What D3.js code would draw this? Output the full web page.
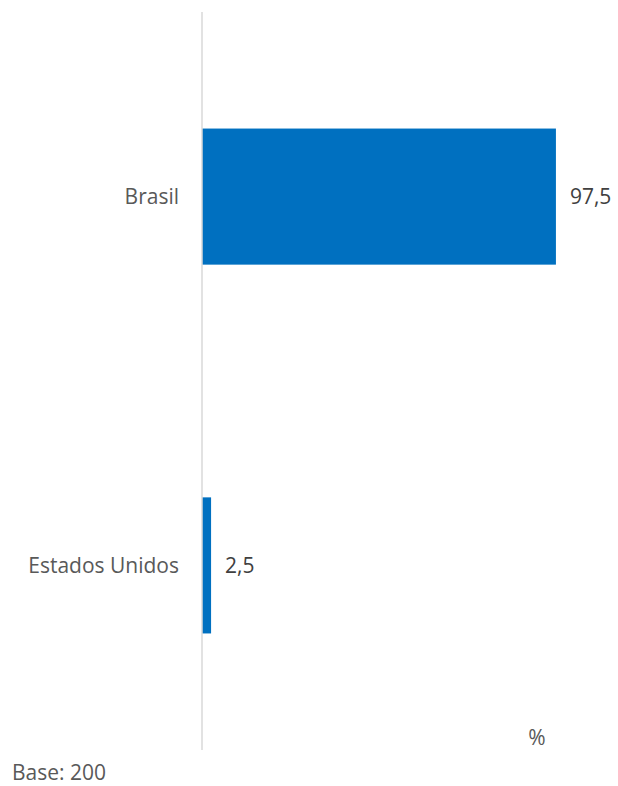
<!DOCTYPE html>
<html>
<head>
<meta charset="utf-8">
<script src="https://cdn.jsdelivr.net/npm/d3@7"></script>
<style>
  html, body { margin: 0; padding: 0; background: #fff; }
  svg { display: block; font-family: "Open Sans", "Noto Sans", sans-serif; }
</style>
</head>
<body>
<svg id="chart" width="618" height="786"></svg>
<script>
const categories = ["Brasil", "Estados Unidos"];
const values = [97.5, 2.5];
const valueLabels = ["97,5", "2,5"];
const unitLabel = "%";
const baseNote = "Base: 200";

const FS = 21;
const svg = d3.select("#chart");
const x = d3.scaleLinear().domain([0, 100]).range([202, 565]);
const y = d3.scaleBand().domain(categories).range([12, 750]).paddingInner(0.631).paddingOuter(0.316);

// bars
svg.selectAll("rect.bar").data(categories).enter().append("rect")
  .attr("class", "bar")
  .attr("x", x(0))
  .attr("y", d => y(d))
  .attr("width", (d, i) => x(values[i]) - x(0))
  .attr("height", y.bandwidth())
  .attr("fill", "#0070C0");

// axis line
svg.append("line")
  .attr("x1", x(0)).attr("x2", x(0))
  .attr("y1", 12).attr("y2", 750)
  .attr("stroke", "#d9d9d9").attr("stroke-width", 1.5);

// category labels
svg.selectAll("text.cat").data(categories).enter().append("text")
  .attr("class", "cat")
  .attr("x", 179)
  .attr("y", d => y(d) + y.bandwidth() / 2)
  .attr("dy", "0.35em")
  .attr("text-anchor", "end")
  .attr("font-size", FS)
  .attr("fill", "#595959")
  .text(d => d);

// value labels
svg.selectAll("text.val").data(categories).enter().append("text")
  .attr("class", "val")
  .attr("x", (d, i) => x(values[i]) + 14)
  .attr("y", d => y(d) + y.bandwidth() / 2)
  .attr("dy", "0.35em")
  .attr("font-size", FS)
  .attr("fill", "#404040")
  .text((d, i) => valueLabels[i]);

svg.append("text")
  .attr("x", 537).attr("y", 738).attr("dy", "0.35em")
  .attr("text-anchor", "middle")
  .attr("font-size", FS).attr("fill", "#595959")
  .text(unitLabel);

svg.append("text")
  .attr("x", 12).attr("y", 773).attr("dy", "0.35em")
  .attr("font-size", FS).attr("fill", "#595959")
  .text(baseNote);
</script>
</body>
</html>
